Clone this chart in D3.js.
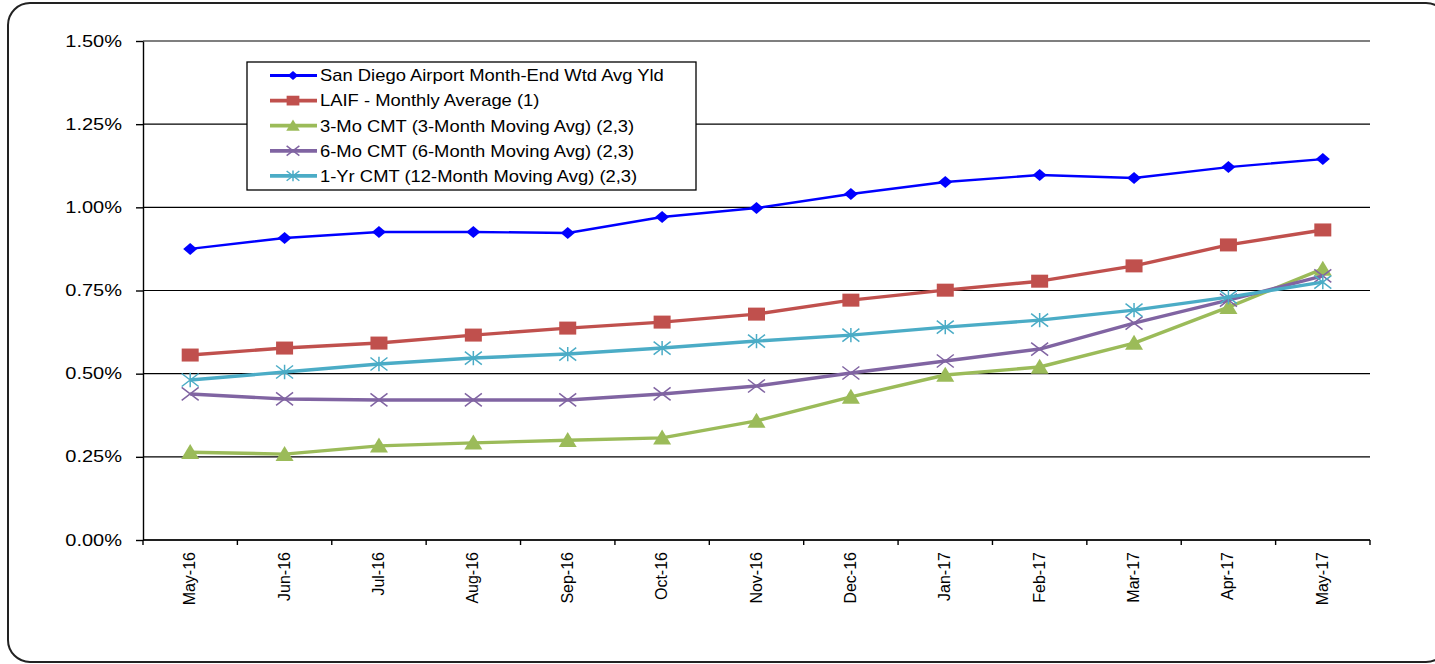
<!DOCTYPE html>
<html><head><meta charset="utf-8">
<script src="https://cdn.jsdelivr.net/npm/d3@7"></script>
<style>body{margin:0;background:#fff;overflow:hidden;}svg{display:block;font-family:"Liberation Sans",Arial,sans-serif;}</style>
</head><body>
<svg id="c" width="1435" height="664"></svg>
<script>
const categories = ["May-16","Jun-16","Jul-16","Aug-16","Sep-16","Oct-16","Nov-16","Dec-16","Jan-17","Feb-17","Mar-17","Apr-17","May-17"];
const sanDiego = [0.875,0.908,0.926,0.926,0.923,0.971,0.998,1.040,1.076,1.097,1.088,1.121,1.145];
const laif = [0.556,0.577,0.592,0.616,0.637,0.655,0.679,0.721,0.751,0.778,0.824,0.887,0.932];
const cmt3 = [0.264,0.258,0.283,0.292,0.300,0.307,0.358,0.430,0.496,0.520,0.592,0.700,0.815];
const cmt6 = [0.439,0.424,0.421,0.421,0.421,0.439,0.463,0.502,0.538,0.574,0.652,0.721,0.794];
const cmt12 = [0.481,0.505,0.529,0.547,0.559,0.577,0.598,0.616,0.640,0.661,0.691,0.730,0.775];
const yTicks = [0,0.25,0.5,0.75,1.0,1.25,1.5];
const seriesNames = ["San Diego Airport Month-End Wtd Avg Yld","LAIF - Monthly Average (1)","3-Mo CMT (3-Month Moving Avg) (2,3)","6-Mo CMT (6-Month Moving Avg) (2,3)","1-Yr CMT (12-Month Moving Avg) (2,3)"];

const series = [
  {name:seriesNames[0], values:sanDiego, color:"#0000FF", width:2.4, marker:"diamond", w:7, h:6},
  {name:seriesNames[1], values:laif, color:"#C0504D", width:3.4, marker:"square", w:8.5, h:6.5},
  {name:seriesNames[2], values:cmt3, color:"#9BBB59", width:3.4, marker:"triangle", w:9, h:7.5},
  {name:seriesNames[3], values:cmt6, color:"#8064A2", width:3.4, marker:"x", w:8.5, h:6.5},
  {name:seriesNames[4], values:cmt12, color:"#4BACC6", width:3.4, marker:"star", w:8.5, h:6.5}
];

const svg = d3.select("#c");
// outer rounded frame (extends past right edge as in reference)
svg.append("rect").attr("x",8).attr("y",3).attr("width",1440).attr("height",659)
  .attr("rx",22).attr("ry",22).attr("fill","none").attr("stroke","#222").attr("stroke-width",2);

const L=143, R=1370, T=41, B=540;
const x = d3.scaleBand().domain(categories).range([L,R]);
const y = d3.scaleLinear().domain([0,1.5]).range([B,T]);

// gridlines
svg.append("g").selectAll("line").data(yTicks).join("line")
  .attr("x1",L).attr("x2",R).attr("y1",d=>y(d)).attr("y2",d=>y(d))
  .attr("stroke","#000").attr("stroke-width",1.2);

// y axis
const yAxis = d3.axisLeft(y).tickValues(yTicks).tickFormat(d=>d3.format(".2f")(d)+"%").tickSizeInner(7).tickSizeOuter(0).tickPadding(14);
const gy = svg.append("g").attr("transform",`translate(${L},0)`).call(yAxis);
gy.selectAll("line,path").attr("stroke","#000").attr("stroke-width",1.4);
gy.selectAll("text").each(function(){
  const t = d3.select(this);
  const tx = +t.attr("x");
  t.attr("x",null).attr("font-size","16px").attr("fill","#000")
   .attr("font-family","'Liberation Sans',Arial,sans-serif")
   .attr("transform",`translate(${tx},0) scale(1.25,1)`);
});

// x axis with ticks at band boundaries
const gx = svg.append("g").attr("transform",`translate(0,${B})`);
gx.append("line").attr("x1",L).attr("x2",R).attr("stroke","#000").attr("stroke-width",1.4);
const bounds = categories.map(c=>x(c)).concat([R]);
gx.selectAll("line.t").data(bounds).join("line").attr("class","t")
  .attr("x1",d=>d).attr("x2",d=>d).attr("y1",0).attr("y2",5).attr("stroke","#000").attr("stroke-width",1.4);
gx.selectAll("text").data(categories).join("text")
  .attr("transform",d=>`translate(${x(d)+x.bandwidth()/2+5},12) rotate(-90)`)
  .attr("text-anchor","end").attr("font-size","16px").attr("fill","#000").text(d=>d);

const cx = (i)=>x(categories[i])+x.bandwidth()/2;

function drawMarker(g, type, w, h, color){
  if(type==="diamond"){
    g.append("path").attr("d",`M0,${-h}L${w},0L0,${h}L${-w},0Z`).attr("fill",color);
  } else if(type==="square"){
    g.append("rect").attr("x",-w).attr("y",-h).attr("width",2*w).attr("height",2*h).attr("fill",color);
  } else if(type==="triangle"){
    g.append("path").attr("d",`M0,${-h*1.1}L${w},${h*0.9}L${-w},${h*0.9}Z`).attr("fill",color);
  } else if(type==="x"){
    g.append("path").attr("d",`M${-w},${-h}L${w},${h}M${-w},${h}L${w},${-h}`).attr("stroke",color).attr("stroke-width",1.5);
  } else if(type==="star"){
    g.append("path").attr("d",`M${-w},${-h}L${w},${h}M${-w},${h}L${w},${-h}M0,${-h*1.1}L0,${h*1.1}`).attr("stroke",color).attr("stroke-width",1.5);
  }
}

const line = d3.line().x((d,i)=>cx(i)).y(d=>y(d));
series.forEach(s=>{
  svg.append("path").attr("d",line(s.values)).attr("fill","none").attr("stroke",s.color).attr("stroke-width",s.width).attr("stroke-linejoin","round");
  s.values.forEach((v,i)=>{
    const g = svg.append("g").attr("transform",`translate(${cx(i)},${y(v)})`);
    drawMarker(g, s.marker, s.w, s.h, s.color);
  });
});

// legend
const lg = svg.append("g");
lg.append("rect").attr("x",247).attr("y",62).attr("width",449).attr("height",128).attr("fill","#fff").attr("stroke","#000").attr("stroke-width",1.3);
series.forEach((s,i)=>{
  const yy = 75.5 + i*25.1;
  lg.append("line").attr("x1",270).attr("x2",317).attr("y1",yy).attr("y2",yy).attr("stroke",s.color).attr("stroke-width",s.width+0.4);
  const g = lg.append("g").attr("transform",`translate(293,${yy})`);
  drawMarker(g, s.marker, s.w*0.75, s.h*0.75, s.color);
  lg.append("text").attr("transform",`translate(320,${yy+5.8}) scale(1.15,1)`).attr("font-size","16px").attr("fill","#000").text(s.name);
});
</script>
</body></html>
